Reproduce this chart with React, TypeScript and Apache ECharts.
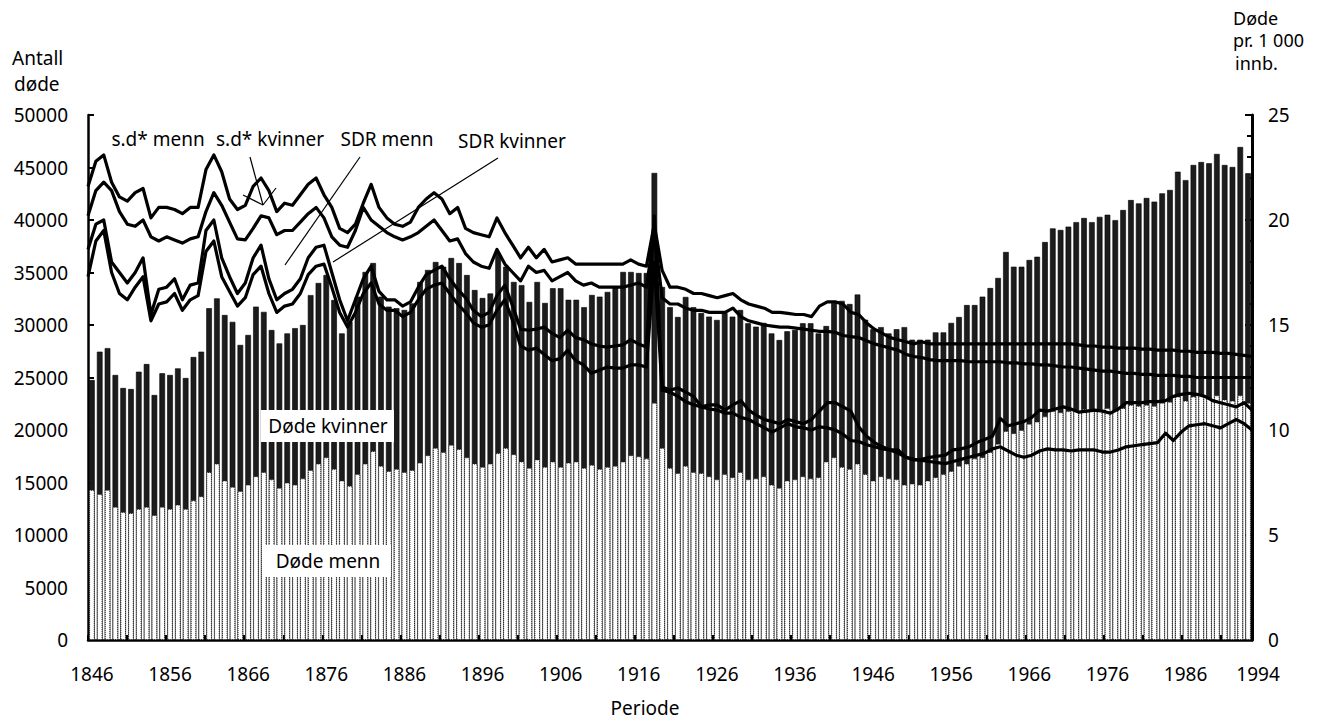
import React, { useEffect, useRef } from 'react';
import * as echarts from 'echarts';

// Years 1846 .. 1994 (category axis)
const firstYear = 1846;
const yearCount = 149;
const years: string[] = Array.from({ length: yearCount }, (_, i) => String(firstYear + i));

const xTickLabels = ['1846', '1856', '1866', '1876', '1886', '1896', '1906', '1916', '1926', '1936', '1946', '1956', '1966', '1976', '1986', '1994'];

// Total deaths (men + women) per year — top of each bar
const deathsTotal = [
  24760, 27460, 27800, 25240, 24000, 23900, 25550, 26280, 23330, 25400,
  25240, 25870, 24950, 26950, 27460, 31600, 32540, 30950, 30300, 28100,
  29050, 31750, 31250, 29520, 28250, 29200, 29700, 30000, 32850, 34000,
  34760, 32380, 29200, 30300, 32700, 35050, 35900, 32700, 31750, 31600,
  31430, 32060, 34100, 35240, 36000, 35550, 36380, 35900, 34760, 33330,
  32570, 33000, 36860, 35550, 34100, 33800, 32200, 34100, 32100, 33500,
  33500, 32400, 32400, 31700, 32860, 32700, 33150, 33600, 35050, 35050,
  34950, 34950, 44480, 33620, 31700, 30760, 32670, 31700, 31140, 30800,
  30480, 31140, 30800, 31430, 30160, 29840, 30200, 29200, 28570, 29400,
  29520, 30160, 30160, 29200, 29900, 32100, 32300, 32000, 32900, 30500,
  29600, 29800, 29200, 29600, 29800, 28600, 28600, 28600, 29300, 29300,
  30200, 30760, 31900, 31900, 32700, 33520, 34480, 36950, 35550, 35550,
  36190, 36500, 37900, 39200, 39050, 39370, 39800, 40190, 39800, 40300,
  40500, 39990, 40950, 41900, 41580, 42100, 41750, 42540, 42860, 44600,
  43800, 45240, 45520, 45400, 46290, 45240, 45050, 46950, 44450,
];

// Deaths, men — lower part of each bar
const deathsMen = [
  14300, 13900, 14300, 12700, 12200, 12100, 12500, 12700, 11900, 12700,
  12500, 12900, 12500, 13300, 13700, 16000, 16800, 15200, 14600, 14200,
  14800, 15600, 16000, 15300, 14500, 15000, 14800, 15400, 16200, 16800,
  17400, 16300, 15200, 14700, 15800, 16800, 18000, 16600, 16100, 16300,
  16000, 16200, 16900, 17600, 18300, 17900, 18600, 18200, 17400, 16800,
  16500, 16800, 17800, 18300, 17700, 17000, 16400, 17200, 16500, 17000,
  16500, 16900, 17000, 16400, 16700, 16300, 16500, 16600, 17000, 17600,
  17500, 17300, 22600, 18300, 16400, 15900, 16600, 16000, 15900, 15600,
  15300, 15800, 15500, 16000, 15300, 15400, 15600, 14800, 14500, 15200,
  15300, 15600, 15400, 15500, 17000, 17400, 16500, 16300, 16800, 15800,
  15200, 15600, 15400, 15300, 14800, 14900, 14800, 15200, 15500, 15800,
  16100, 16600, 16800, 17300, 17400, 17900, 18700, 19900, 19700, 20000,
  20600, 20800, 21300, 21800, 21700, 21800, 21900, 22000, 21800, 22000,
  22100, 21900, 22100, 22400, 22300, 22400, 22300, 22600, 22700, 23200,
  22800, 23200, 23400, 23100, 23300, 22900, 22800, 23300, 22600,
];

// s.d* menn (per 1 000)
const sdMen = [
  21.6, 22.8, 23.1, 21.8, 21.1, 20.9, 21.3, 21.5, 20.1, 20.6,
  20.6, 20.5, 20.3, 20.6, 20.6, 22.4, 23.1, 22.3, 21.0, 20.5,
  20.7, 21.6, 22.0, 21.4, 20.4, 20.8, 20.7, 21.2, 21.7, 22.0,
  21.2, 20.6, 19.6, 19.4, 19.8, 20.8, 21.7, 20.6, 20.1, 19.8,
  19.7, 19.9, 20.6, 21.0, 21.3, 21.0, 20.3, 20.6, 19.6, 19.4,
  19.3, 19.2, 20.1, 19.4, 18.8, 18.2, 18.7, 18.2, 18.6, 18.0,
  18.1, 18.2, 17.9, 17.9, 17.9, 17.9, 17.9, 17.9, 17.9, 18.1,
  17.9, 17.8, 19.8, 17.6, 16.8, 16.8, 16.7, 16.5, 16.5, 16.4,
  16.3, 16.4, 16.5, 16.2, 16.0, 15.9, 15.8, 15.6, 15.6, 15.55,
  15.5, 15.5, 15.4, 15.9, 16.1, 16.1, 16.0, 15.6, 15.5, 15.1,
  14.8, 14.6, 14.4, 14.3, 14.2, 14.1, 14.2, 14.1, 14.1, 14.1,
  14.1, 14.1, 14.1, 14.1, 14.1, 14.1, 14.1, 14.1, 14.1, 14.1,
  14.1, 14.1, 14.1, 14.1, 14.1, 14.1, 14.05, 14.0, 14.0, 13.95,
  13.95, 13.9, 13.9, 13.9, 13.85, 13.85, 13.8, 13.8, 13.8, 13.75,
  13.75, 13.7, 13.7, 13.7, 13.65, 13.65, 13.6, 13.55, 13.5,
];

// s.d* kvinner (per 1 000)
const sdWomen = [
  20.2, 21.4, 21.8, 21.4, 20.4, 19.8, 19.7, 20.0, 19.2, 19.0,
  19.2, 19.05, 18.9, 19.1, 19.2, 20.4, 21.3, 20.7, 19.9, 19.1,
  19.05, 19.6, 20.2, 20.1, 19.3, 19.5, 19.5, 19.9, 20.3, 20.6,
  20.1, 19.2, 18.8, 18.7, 19.5, 20.6, 20.0, 19.7, 19.4, 19.2,
  19.05, 19.2, 19.4, 19.7, 20.0, 19.5, 19.0, 19.1, 18.4, 18.0,
  17.8, 17.7, 18.6, 17.9, 17.5, 17.1, 17.8, 17.5, 17.6, 17.1,
  17.3, 17.5, 17.1, 16.9, 17.0, 16.8, 16.8, 16.8, 16.8, 16.9,
  17.0, 16.8, 19.4, 16.3, 16.0, 16.0, 15.8, 15.7, 15.7, 15.6,
  15.6, 15.6, 15.8, 15.4, 15.2, 15.1, 15.0, 14.95, 14.9, 14.9,
  14.85, 14.8, 14.75, 14.7, 14.7, 14.65, 14.5, 14.45, 14.4, 14.25,
  14.1, 14.0, 13.9, 13.8, 13.6, 13.5, 13.45, 13.35, 13.3, 13.3,
  13.3, 13.3, 13.25, 13.25, 13.25, 13.25, 13.25, 13.2, 13.2, 13.15,
  13.15, 13.1, 13.1, 13.05, 13.0, 13.0, 12.95, 12.9, 12.85, 12.8,
  12.8, 12.75, 12.7, 12.7, 12.65, 12.65, 12.6, 12.6, 12.6, 12.55,
  12.55, 12.5, 12.5, 12.5, 12.5, 12.5, 12.5, 12.5, 12.5,
];

// SDR menn (per 1 000)
const sdrMen = [
  18.6, 19.8, 20.0, 18.0, 17.5, 17.0, 17.5, 18.2, 15.5, 16.7,
  16.8, 17.2, 16.2, 16.9, 17.0, 19.5, 20.0, 18.2, 17.3, 16.5,
  17.0, 18.2, 18.8, 17.2, 16.2, 16.5, 16.7, 17.2, 18.2, 18.7,
  18.8, 17.5, 16.2, 15.2, 16.2, 17.2, 17.8, 16.6, 16.2, 16.2,
  15.9, 16.1, 16.8, 17.4, 17.6, 17.8, 17.2, 16.7, 16.3, 15.7,
  15.4, 15.6, 16.4, 16.9, 15.9, 14.8, 14.75, 14.8, 14.9, 14.6,
  14.4, 14.75, 14.4, 14.3, 14.1, 14.0, 13.95, 14.0, 14.05, 14.3,
  14.1, 13.95, 20.2, 12.05, 11.9, 12.0, 11.8, 11.6, 11.1, 11.2,
  11.2, 10.95, 11.2, 11.4, 10.95, 10.7, 10.5, 10.4, 10.3, 10.5,
  10.4, 10.3, 10.5, 10.9, 11.3, 11.3, 11.1, 10.9, 10.15, 9.7,
  9.4, 9.2, 9.05, 9.05, 8.7, 8.57, 8.6, 8.7, 8.75, 8.8,
  9.05, 9.1, 9.2, 9.4, 9.55, 9.7, 10.55, 10.2, 10.3, 10.4,
  10.6, 10.95, 10.9, 11.0, 11.1, 11.0, 10.85, 10.9, 10.95, 10.9,
  10.8, 11.0, 11.3, 11.3, 11.3, 11.35, 11.35, 11.4, 11.6, 11.7,
  11.75, 11.7, 11.6, 11.4, 11.3, 11.2, 11.1, 11.3, 10.95,
];

// SDR kvinner (per 1 000)
const sdrWomen = [
  17.3, 19.0, 19.5, 17.5, 16.5, 16.2, 16.8, 17.3, 15.2, 16.0,
  16.1, 16.5, 15.7, 16.2, 16.4, 18.5, 19.0, 17.3, 16.6, 15.9,
  16.3, 17.4, 17.8, 16.5, 15.6, 15.9, 16.0, 16.5, 17.4, 17.8,
  17.9, 16.8, 15.6, 14.9, 15.6, 16.5, 17.0, 16.0, 15.7, 15.7,
  15.4, 15.6, 16.2, 16.7, 16.9, 17.0, 16.5, 16.0, 15.6, 15.1,
  14.9, 15.0, 15.7, 16.2, 15.2, 14.0, 13.8, 13.9, 13.6, 13.3,
  13.4, 13.8, 13.3, 13.1, 12.7, 12.85, 13.0, 12.95, 12.95, 13.1,
  13.1, 13.0, 18.0, 11.9, 11.8, 11.6, 11.35, 11.2, 11.1, 11.0,
  10.95, 10.8, 10.8, 10.6, 10.5, 10.3, 10.1, 9.9, 10.1, 10.3,
  10.15, 10.1, 10.0, 10.15, 10.1, 10.0, 9.8, 9.5, 9.45, 9.3,
  9.2, 9.1, 9.05, 8.9, 8.7, 8.6, 8.55, 8.5, 8.45, 8.4,
  8.5, 8.6, 8.7, 8.8, 8.9, 9.1, 9.2, 9.0, 8.8, 8.7,
  8.8, 9.0, 9.1, 9.05, 9.05, 9.0, 9.05, 9.05, 9.05, 8.95,
  8.95, 9.05, 9.2, 9.25, 9.3, 9.35, 9.4, 9.85, 9.5, 9.9,
  10.2, 10.25, 10.3, 10.2, 10.1, 10.3, 10.5, 10.3, 10.0,
];

const FONT = '"Noto Sans", "Open Sans", sans-serif';
const FS = 19;

function txt(text: string, x: number, y: number, align: string = 'left', size: number = FS) {
  return {
    type: 'text',
    x,
    y,
    z: 200,
    style: { text, fill: '#000', font: `${size}px ${FONT}`, align, verticalAlign: 'middle' },
  };
}

function seg(x1: number, y1: number, x2: number, y2: number) {
  return {
    type: 'line',
    z: 200,
    shape: { x1, y1, x2, y2 },
    style: { stroke: '#000', lineWidth: 1.2 },
  };
}

export default function App() {
  const ref = useRef<HTMLDivElement>(null);

  useEffect(() => {
    if (!ref.current) return;
    const chart = echarts.init(ref.current, undefined, { renderer: 'svg' });

    const lineSeries = (name: string, data: number[]) => ({
      name,
      type: 'line',
      xAxisIndex: 1,
      yAxisIndex: 1,
      data,
      symbol: 'none',
      z: 10,
      lineStyle: { color: '#000', width: 3.2, join: 'round' },
    });

    const option: any = {
      animation: false,
      backgroundColor: '#fff',
      textStyle: { fontFamily: FONT },
      grid: { left: 88, right: 71, top: 115, bottom: 80, containLabel: false },
      xAxis: [
        {
          type: 'category',
          data: years,
          boundaryGap: true,
          axisLine: { show: true, lineStyle: { color: '#000', width: 2.5 } },
          axisTick: {
            show: true,
            inside: true,
            length: 5,
            interval: (i: number) => i % 5 === 0,
            lineStyle: { color: '#000', width: 2 },
          },
          axisLabel: {
            interval: (_i: number, v: string) => xTickLabels.includes(v),
            margin: 24,
            color: '#000',
            fontSize: FS,
            fontFamily: FONT,
            formatter: (v: string) => (v === '1994' ? '{e|1994}' : v),
            rich: { e: { fontSize: FS, fontFamily: FONT, color: '#000', padding: [0, 0, 4, 20] } },
          },
          splitLine: { show: false },
        },
        {
          type: 'category',
          data: years,
          boundaryGap: false,
          show: false,
        },
      ],
      yAxis: [
        {
          type: 'value',
          min: 0,
          max: 50000,
          interval: 5000,
          position: 'left',
          axisLine: { show: true, lineStyle: { color: '#000', width: 2.5 } },
          axisTick: { show: true, inside: true, length: 6, lineStyle: { color: '#000', width: 2 } },
          axisLabel: { margin: 20, color: '#000', fontSize: FS, fontFamily: FONT, formatter: (v: number) => String(v) },
          splitLine: { show: false },
        },
        {
          type: 'value',
          min: 0,
          max: 25,
          interval: 5,
          position: 'right',
          axisLine: { show: true, lineStyle: { color: '#000', width: 3 } },
          axisTick: { show: true, inside: true, length: 7, lineStyle: { color: '#000', width: 2 } },
          minorTick: { show: true, splitNumber: 5, length: 5, lineStyle: { color: '#000', width: 2 } },
          axisLabel: { margin: 16, color: '#000', fontSize: FS, fontFamily: FONT, formatter: (v: number) => String(v) },
          splitLine: { show: false },
        },
      ],
      series: [
        {
          name: 'Døde i alt',
          type: 'bar',
          xAxisIndex: 0,
          yAxisIndex: 0,
          data: deathsTotal,
          barGap: '-100%',
          barCategoryGap: '28%',
          itemStyle: { color: '#1c1c1c', borderColor: '#000', borderWidth: 0.6 },
          z: 2,
        },
        {
          name: 'Døde menn',
          type: 'bar',
          xAxisIndex: 0,
          yAxisIndex: 0,
          data: deathsMen,
          barGap: '-100%',
          barCategoryGap: '28%',
          itemStyle: { color: '#ffffff', borderColor: '#222', borderWidth: 1, borderType: 'dotted' },
          z: 3,
        },
        lineSeries('s.d* menn', sdMen),
        lineSeries('s.d* kvinner', sdWomen),
        lineSeries('SDR menn', sdrMen),
        lineSeries('SDR kvinner', sdrWomen),
      ],
      graphic: [
        txt('Antall', 12, 58),
        txt('døde', 14, 84),
        txt('Døde', 1233, 18, 'left', 18),
        txt('pr. 1 000', 1233, 40, 'left', 18),
        txt('innb.', 1235, 63, 'left', 18),
        txt('Periode', 645, 708, 'center'),
        txt('s.d* menn', 158, 139, 'center'),
        txt('s.d* kvinner', 270, 139, 'center'),
        txt('SDR menn', 387, 139, 'center'),
        txt('SDR kvinner', 512, 141, 'center'),
        seg(250, 157, 263, 205),
        seg(243, 195, 263, 205),
        seg(276, 188, 263, 205),
        seg(360, 157, 285, 265),
        seg(498, 158, 333, 262),
        { type: 'rect', z: 190, shape: { x: 261, y: 410, width: 133, height: 32 }, style: { fill: '#fff' } },
        txt('Døde kvinner', 328, 426, 'center'),
        { type: 'rect', z: 190, shape: { x: 264, y: 545, width: 127, height: 32 }, style: { fill: '#fff' } },
        txt('Døde menn', 328, 561, 'center'),
      ],
    };

    chart.setOption(option);
    return () => chart.dispose();
  }, []);

  return (
    <div
      ref={ref}
      style={{ position: 'absolute', left: 0, top: 0, width: 1323, height: 720, background: '#fff' }}
    />
  );
}
